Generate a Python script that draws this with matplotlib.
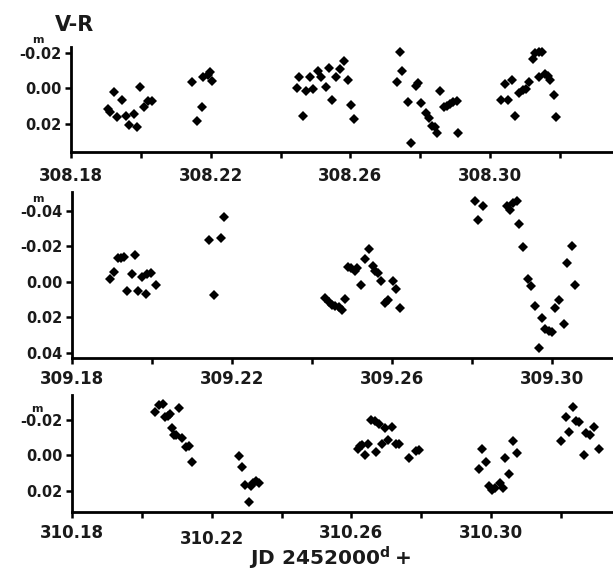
import matplotlib
matplotlib.use("Agg")
import matplotlib.pyplot as plt
import matplotlib.transforms as mtransforms

# ---------------- data ----------------
x1 = [308.1905, 308.1912, 308.1923, 308.1933, 308.1946, 308.1958, 308.1965, 308.1979,
      308.1988, 308.1999, 308.2008, 308.2020, 308.2031,
      308.2146, 308.2160, 308.2175, 308.2179, 308.2191, 308.2198, 308.2204,
      308.2447, 308.2454, 308.2464, 308.2473, 308.2483, 308.2494, 308.2506, 308.2517,
      308.2529, 308.2540, 308.2548, 308.2559, 308.2571, 308.2582, 308.2594, 308.2601,
      308.2609,
      308.2733, 308.2743, 308.2749, 308.2766, 308.2774, 308.2788, 308.2793, 308.2803,
      308.2816, 308.2826, 308.2834, 308.2841, 308.2849, 308.2858, 308.2867, 308.2876,
      308.2886, 308.2895, 308.2905, 308.2908,
      308.3032, 308.3042, 308.3051, 308.3063, 308.3072, 308.3084, 308.3093, 308.3103,
      308.3112, 308.3122, 308.3129, 308.3139, 308.3150, 308.3141, 308.3158, 308.3166,
      308.3173, 308.3183, 308.3189]
y1 = [0.0118, 0.0131, 0.0019, 0.0162, 0.0066, 0.0153, 0.0206, 0.0146,
      0.0215, -0.0006, 0.0103, 0.0069, 0.0071,
      -0.0034, 0.0181, 0.0103, -0.0065, -0.0075, -0.0093, -0.0043,
      0.0000, -0.0065, 0.0153, 0.0015, -0.0065, 0.0004, -0.0095, -0.0065,
      -0.0006, -0.0116, 0.0066, -0.0065, -0.0106, -0.0151, -0.0046, 0.0095,
      0.0172,
      -0.0037, -0.0205, -0.0097, 0.0075, 0.0305, -0.0013, -0.0028, 0.0084,
      0.0137, 0.0168, 0.0211, 0.0218, 0.0252, 0.0013, 0.0103, 0.0097,
      0.0088, 0.0075, 0.0069, 0.0252,
      0.0066, -0.0024, 0.0066, -0.0046, 0.0155, 0.0025, 0.0010, 0.0006,
      -0.0037, -0.0162, -0.0196, -0.0202, -0.0203, -0.0065, -0.0080, -0.0069,
      -0.0046, 0.0038, 0.0162]

x2 = [309.1896, 309.1904, 309.1914, 309.1923, 309.1931, 309.1938, 309.1950, 309.1957,
      309.1964, 309.1975, 309.1985, 309.1988, 309.1998, 309.2009,
      309.2142, 309.2154, 309.2173, 309.2181,
      309.2433, 309.2442, 309.2450, 309.2458, 309.2467, 309.2475, 309.2482, 309.2489,
      309.2498, 309.2506, 309.2513, 309.2521, 309.2531, 309.2543, 309.2551, 309.2558,
      309.2564, 309.2573, 309.2582, 309.2590, 309.2602, 309.2610, 309.2619,
      309.2806, 309.2815, 309.2828, 309.2888, 309.2894, 309.2902, 309.2911, 309.2918,
      309.2927, 309.2939, 309.2948, 309.2958, 309.2967, 309.2975, 309.2983, 309.2992,
      309.3000, 309.3008, 309.3018, 309.3029, 309.3036, 309.3050, 309.3058]
y2 = [-0.0015, -0.0052, -0.0133, -0.0133, -0.0137, 0.0054, -0.0045, -0.0152,
      0.0054, -0.0024, 0.0069, -0.0043, -0.0049, 0.0017,
      -0.0234, 0.0073, -0.0245, -0.0363,
      0.0092, 0.0114, 0.0129, 0.0139, 0.0144, 0.0157, 0.0096, -0.0084,
      -0.0077, -0.0062, -0.0077, 0.0021, -0.0127, -0.0184, -0.0086, -0.0062,
      -0.0049, -0.0002, 0.0120, 0.0101, -0.0006, 0.0039, 0.0148,
      -0.0451, -0.0344, -0.0423, -0.0423, -0.0404, -0.0442, -0.0451, -0.0324,
      -0.0195, -0.0017, 0.0024, 0.0135, 0.0372, 0.0204, 0.0264, 0.0275,
      0.0285, 0.0148, 0.0101, 0.0236, -0.0103, -0.0202, 0.0017]

x3 = [310.2038, 310.2049, 310.2060, 310.2067, 310.2074, 310.2081, 310.2106, 310.2085,
      310.2093, 310.2098, 310.2115, 310.2127, 310.2136, 310.2144,
      310.2277, 310.2287, 310.2296, 310.2306, 310.2313, 310.2319, 310.2327, 310.2334,
      310.2618, 310.2624, 310.2630, 310.2638, 310.2648, 310.2657, 310.2667, 310.2670,
      310.2679, 310.2687, 310.2696, 310.2706, 310.2715, 310.2727, 310.2736,
      310.2765, 310.2784, 310.2793,
      310.2965, 310.2974, 310.2984, 310.2993, 310.3003, 310.3012, 310.3025, 310.3034,
      310.3041, 310.3051, 310.3063, 310.3074,
      310.3201, 310.3213, 310.3223, 310.3234, 310.3244, 310.3253, 310.3265, 310.3272,
      310.3282, 310.3295, 310.3308]
y3 = [-0.0244, -0.0286, -0.0290, -0.0214, -0.0225, -0.0233, -0.0267, -0.0154,
      -0.0117, -0.0113, -0.0098, -0.0045, -0.0055, 0.0037,
      0.0002, 0.0065, 0.0165, 0.0265, 0.0171, 0.0156, 0.0143, 0.0156,
      -0.0038, -0.0051, -0.0060, -0.0004, -0.0066, -0.0201, -0.0192, -0.0017,
      -0.0179, -0.0066, -0.0154, -0.0085, -0.0163, -0.0066, -0.0066,
      0.0015, -0.0026, -0.0032,
      0.0075, -0.0036, 0.0037, 0.0175, 0.0193, 0.0184, 0.0156, 0.0184,
      0.0015, 0.0103, -0.0079, -0.0014,
      -0.0083, -0.0214, -0.0132, -0.0276, -0.0195, -0.0186, -0.0004, -0.0126,
      -0.0117, -0.0163, -0.0036]

xticks1 = [308.18, 308.20, 308.22, 308.24, 308.26, 308.28, 308.30, 308.32]
xlabels1 = ["308.18", "", "308.22", "", "308.26", "", "308.30", ""]
xticks2 = [309.18, 309.20, 309.22, 309.24, 309.26, 309.28, 309.30]
xlabels2 = ["309.18", "", "309.22", "", "309.26", "", "309.30"]
xticks3 = [310.18, 310.20, 310.22, 310.24, 310.26, 310.28, 310.30, 310.32]
xlabels3 = ["310.18", "", "310.22", "", "310.26", "", "310.30", ""]

yticks1 = [-0.02, 0.00, 0.02]
ylabels1 = ["-0.02", "0.00", "0.02"]
yticks2 = [-0.04, -0.02, 0.00, 0.02, 0.04]
ylabels2 = ["-0.04", "-0.02", "0.00", "0.02", "0.04"]
yticks3 = [-0.02, 0.00, 0.02]
ylabels3 = ["-0.02", "0.00", "0.02"]

# ---------------- figure ----------------
plt.rcParams['font.family'] = ['DejaVu Sans']
plt.rcParams['font.weight'] = 'bold'
plt.rcParams['mathtext.fontset'] = 'dejavusans'

W, H = 613, 574
fig = plt.figure(figsize=(W / 100, H / 100), dpi=100)


def px_axes(left, top, right, bottom):
    return fig.add_axes([left / W, 1 - bottom / H, (right - left) / W, (bottom - top) / H])


panels = [
    dict(rect=(71, 47, 613, 152), x=x1, y=y1, xt=xticks1, xl=xlabels1, yt=yticks1, yl=ylabels1,
         xlim=(308.18, 308.3352), ylim=(0.0357, -0.0232), pad=7, mpos=(38, 40)),
    dict(rect=(72, 192, 613, 358), x=x2, y=y2, xt=xticks2, xl=xlabels2, yt=yticks2, yl=ylabels2,
         xlim=(309.18, 309.3152), ylim=(0.0429, -0.0504), pad=5, mpos=(38, 199)),
    dict(rect=(72, 395, 613, 512), x=x3, y=y3, xt=xticks3, xl=xlabels3, yt=yticks3, yl=ylabels3,
         xlim=(310.18, 310.3349), ylim=(0.0320, -0.0341), pad=5, mpos=(37, 409)),
]

axes = []
for p in panels:
    ax = px_axes(*p['rect'])
    ax.plot(p['x'], p['y'], linestyle='none', marker='D', markersize=5.6,
            color='black', markeredgewidth=0)
    ax.set_xlim(*p['xlim'])
    ax.set_ylim(*p['ylim'])
    ax.set_xticks(p['xt'])
    ax.set_xticklabels(p['xl'])
    ax.set_yticks(p['yt'])
    ax.set_yticklabels(p['yl'])
    for s in ('top', 'right'):
        ax.spines[s].set_visible(False)
    for s in ('left', 'bottom'):
        ax.spines[s].set_linewidth(2.0)
    ax.tick_params(axis='both', direction='out', length=4, width=1.8, color='black')
    ax.tick_params(axis='y', labelsize=10.5, pad=3)
    ax.tick_params(axis='x', labelsize=12, pad=p['pad'])
    for lbl in ax.get_xticklabels() + ax.get_yticklabels():
        lbl.set_fontweight('bold')
        lbl.set_color('#1a1a1a')
    mx, my = p['mpos']
    fig.text(mx / W, 1 - my / H, "m", fontsize=8, fontweight='bold',
             ha='center', va='center', color='#1a1a1a')
    axes.append(ax)

# lower the 310.22 label slightly as in the reference
lbl = axes[2].get_xticklabels()[2]
lbl.set_transform(lbl.get_transform() +
                  mtransforms.ScaledTranslation(0, -4 / 72, fig.dpi_scale_trans))

fig.text(75 / W, 1 - 25 / H, "V-R", fontsize=15, fontweight='bold',
         ha='center', va='center', color='#1a1a1a')
fig.text(330 / W, 1 - 566 / H, r"$\mathbf{JD\ 2452000^{d}+}$", fontsize=14.5,
         ha='center', va='baseline', color='#1a1a1a')

fig.savefig("out.png", dpi=100)
